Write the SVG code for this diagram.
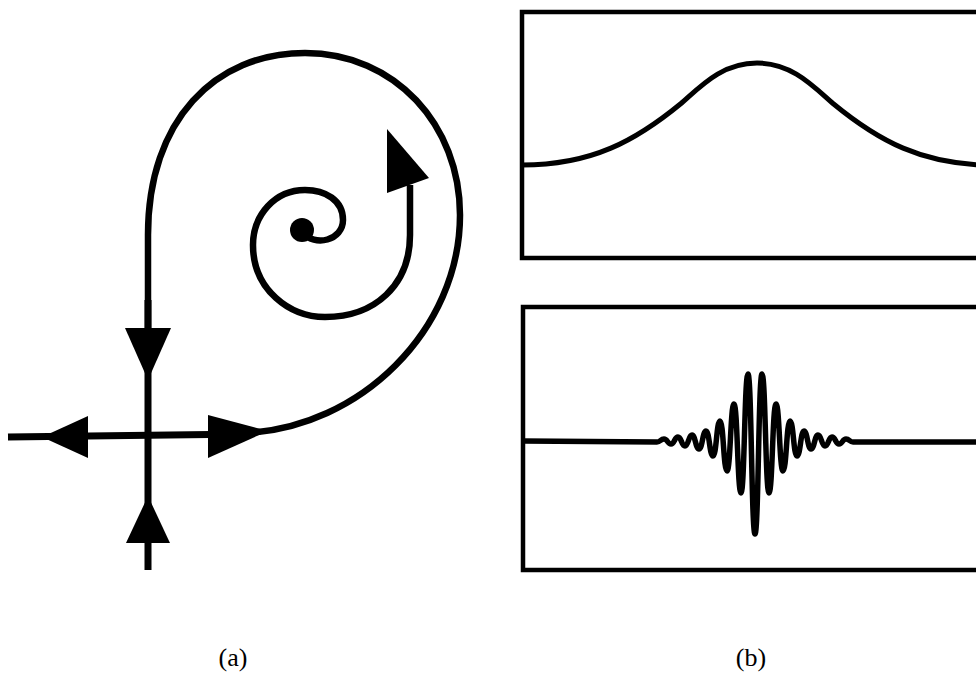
<svg xmlns="http://www.w3.org/2000/svg" width="976" height="673" viewBox="0 0 976 673">
<style>
.ln{fill:none;stroke:#000;stroke-linecap:butt;stroke-linejoin:round}
.hd{fill:#000;stroke:none}
.box{fill:none;stroke:#000;stroke-width:4.5}
.lbl{font-family:"Liberation Serif","DejaVu Serif",serif;font-size:26px;fill:#000;text-anchor:middle}
</style>
<rect width="976" height="673" fill="#fff"/>
<g id="panel-a">
  <g id="connectors">
    <path class="ln" stroke-width="6.5" d="M148,330 L148,235 C148,120 215,53 305,53 C395,53 460,125 460,215 C460,330 360,428 245,433"/>
    <path class="ln" stroke-width="7" d="M148,570 L148,300"/>
    <path class="ln" stroke-width="7" d="M8,437 L250,434"/>
    <path class="ln" stroke-width="6.5" d="M302,232 C315,248 343,240 343,220 C343,200 325,190 305,190 C275,190 253,215 253,245 C253,290 290,317 325,317 C375,317 410,285 410,235 L410,185"/>
    <polygon class="hd" points="125,328 171,328 148,380"/>
    <polygon class="hd" points="88,416 88,458 42,437"/>
    <polygon class="hd" points="208,415 208,458 268,431"/>
    <polygon class="hd" points="126,543 170,543 148,496"/>
    <polygon class="hd" points="387,129 387,193 429,178"/>
  </g>
  <g id="fixed-point"><circle cx="302" cy="230" r="12" fill="#000"/></g>
  <text class="lbl" x="233" y="666">(a)</text>
</g>
<g id="panel-b">
  <g id="box-top">
    <rect class="box" x="522" y="12" width="470" height="246"/>
    <path class="ln" stroke-width="5" d="M522,165.1 C592,165.1 636,140.5 681,103.5 C701,86 722,63 757,63 C792,63 813,86 833,103.5 C878,140.5 922,165.1 992,165.1"/>
  </g>
  <g id="box-bottom">
    <rect class="box" x="523" y="307" width="470" height="263"/>
    <path class="ln" stroke-width="5.5" d="M523,441 L657,442 C660.5,442 660.5,439 664,439 C667.5,439 667.5,444 671,444 C674.5,444 674.5,437 678,437 C681.5,437 681.5,446 685,446 C688.5,446 688.5,435 692,435 C695.5,435 695.5,449 699,449 C702.5,449 702.5,431 706,431 C709.5,431 709.5,456 713,456 C716.5,456 716.5,421 720,421 C723.5,421 723.5,471 727,471 C730.5,471 730.5,404 734,404 C737.5,404 737.5,493 741,493 C744.5,493 744.5,374 748,374 C751.5,374 751.5,534 755,534 C758.5,534 758.5,374 762,374 C765.5,374 765.5,493 769,493 C772.5,493 772.5,404 776,404 C779.5,404 779.5,471 783,471 C786.5,471 786.5,421 790,421 C793.5,421 793.5,456 797,456 C800.5,456 800.5,431 804,431 C807.5,431 807.5,449 811,449 C814.5,449 814.5,435 818,435 C821.5,435 821.5,446 825,446 C828.5,446 828.5,437 832,437 C835.5,437 835.5,444 839,444 C842.5,444 842.5,439 846,439 C849.5,439 849.5,442 853,442 L976,442"/>
  </g>
  <text class="lbl" x="751" y="666">(b)</text>
</g>
</svg>
